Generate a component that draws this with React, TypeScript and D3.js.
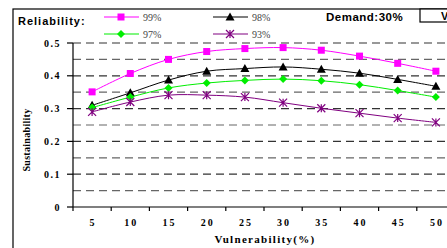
import React, { useEffect, useRef } from "react";
import * as d3 from "d3";

const vulnerability = ["5", "10", "15", "20", "25", "30", "35", "40", "45", "50"];
const rel99 = [0.351, 0.407, 0.45, 0.474, 0.483, 0.486, 0.478, 0.46, 0.438, 0.414];
const rel98 = [0.31, 0.348, 0.387, 0.414, 0.422, 0.427, 0.42, 0.408, 0.389, 0.368];
const rel97 = [0.303, 0.335, 0.363, 0.378, 0.386, 0.39, 0.385, 0.373, 0.355, 0.335];
const rel93 = [0.29, 0.32, 0.341, 0.341, 0.335, 0.318, 0.301, 0.286, 0.271, 0.258];
const yTicks = [0, 0.1, 0.2, 0.3, 0.4, 0.5];
const gridTicks = [0.05, 0.1, 0.15, 0.2, 0.25, 0.3, 0.35, 0.4, 0.45, 0.5];

const series = [
  { name: "99%", values: rel99, color: "#ff00ff", marker: "square" },
  { name: "98%", values: rel98, color: "#000000", marker: "triangle" },
  { name: "97%", values: rel97, color: "#00ee00", marker: "diamond" },
  { name: "93%", values: rel93, color: "#800080", marker: "asterisk" },
];

const width = 447;
const height = 248;
const margin = { top: 43, right: -8, bottom: 41, left: 73 };

const serif = "'Liberation Serif', 'Times New Roman', serif";
const sans = "'Liberation Sans', Arial, sans-serif";

function drawMarker(g: any, kind: string, x: number, y: number, color: string) {
  if (kind === "square") {
    g.append("rect").attr("x", x - 3.5).attr("y", y - 3.5).attr("width", 7).attr("height", 7).attr("fill", color);
  } else if (kind === "triangle") {
    g.append("path").attr("d", `M${x},${y - 4.5}L${x + 4.5},${y + 3.5}L${x - 4.5},${y + 3.5}Z`).attr("fill", color);
  } else if (kind === "diamond") {
    g.append("path").attr("d", `M${x},${y - 4}L${x + 4},${y}L${x},${y + 4}L${x - 4},${y}Z`).attr("fill", color);
  } else {
    const r = 4;
    g.append("path")
      .attr("d", `M${x - r},${y - r}L${x + r},${y + r}M${x - r},${y + r}L${x + r},${y - r}M${x},${y - r}L${x},${y + r}`)
      .attr("stroke", color)
      .attr("stroke-width", 1.2)
      .attr("fill", "none");
  }
}

const App = () => {
  const ref = useRef<SVGSVGElement>(null);

  useEffect(() => {
    document.body.style.margin = "0";
    const svg = d3.select(ref.current);
    svg.selectAll("*").remove();

    const x = d3
      .scaleBand()
      .domain(vulnerability)
      .range([margin.left, width - margin.right])
      .padding(0);
    const y = d3
      .scaleLinear()
      .domain([0, 0.5])
      .range([height - margin.bottom, margin.top]);

    // outer frame
    svg.append("rect").attr("x", 13).attr("y", 9).attr("width", 450).attr("height", 260)
      .attr("fill", "white").attr("stroke", "black").attr("stroke-width", 1.2);
    svg.append("rect").attr("x", 420).attr("y", 9).attr("width", 40).attr("height", 13)
      .attr("fill", "white").attr("stroke", "black").attr("stroke-width", 1.2);
    svg.append("text").attr("x", 441).attr("y", 20).attr("font-family", sans).attr("font-weight", "bold")
      .attr("font-size", 11).text("V");

    // grid
    svg.append("g").selectAll("line").data(gridTicks).enter().append("line")
      .attr("x1", margin.left).attr("x2", width)
      .attr("y1", (d) => y(d)).attr("y2", (d) => y(d))
      .attr("stroke", (d, i) => (i % 2 === 1 ? "#333" : "#666"))
      .attr("stroke-width", 1.2)
      .attr("stroke-dasharray", "8,5");

    // y axis
    svg.append("line").attr("x1", margin.left).attr("x2", margin.left)
      .attr("y1", y(0)).attr("y2", y(0.5)).attr("stroke", "black").attr("stroke-width", 1.2);
    const yt = svg.append("g");
    yTicks.forEach((t) => {
      yt.append("line").attr("x1", margin.left - 6).attr("x2", margin.left)
        .attr("y1", y(t)).attr("y2", y(t)).attr("stroke", "black").attr("stroke-width", 1.2);
      yt.append("text").attr("x", margin.left - 12).attr("y", y(t) + 3.5)
        .attr("text-anchor", "end").attr("font-family", serif).attr("font-weight", "bold")
        .attr("font-size", 10).attr("letter-spacing", 1.5).text(t === 0 ? "0" : String(t));
    });

    // x axis
    svg.append("line").attr("x1", margin.left).attr("x2", width)
      .attr("y1", y(0)).attr("y2", y(0)).attr("stroke", "black").attr("stroke-width", 1.2);
    const xt = svg.append("g");
    vulnerability.forEach((v) => {
      const bx = x(v)!;
      xt.append("line").attr("x1", bx).attr("x2", bx).attr("y1", y(0)).attr("y2", y(0) + 4)
        .attr("stroke", "black").attr("stroke-width", 1.2);
      xt.append("text").attr("x", bx + x.bandwidth() / 2 + 1).attr("y", y(0) + 19)
        .attr("text-anchor", "middle").attr("font-family", serif).attr("font-weight", "bold")
        .attr("font-size", 10).attr("letter-spacing", 2).text(v);
    });

    // axis titles
    svg.append("text").attr("x", 265).attr("y", 243).attr("text-anchor", "middle")
      .attr("font-family", serif).attr("font-weight", "bold").attr("font-size", 11)
      .attr("letter-spacing", 1.3).text("Vulnerability(%)");
    svg.append("text").attr("transform", `translate(30,140) rotate(-90)`)
      .attr("text-anchor", "middle").attr("font-family", serif).attr("font-weight", "bold")
      .attr("font-size", 10).attr("letter-spacing", 0.3).text("Sustainability");

    // lines
    const line = d3
      .line<number>()
      .x((d, i) => x(vulnerability[i])! + x.bandwidth() / 2)
      .y((d) => y(d))
      .curve(d3.curveCatmullRom.alpha(0.5));

    series.forEach((s) => {
      svg.append("path").attr("d", line(s.values)).attr("fill", "none")
        .attr("stroke", s.color).attr("stroke-width", 1);
      const mg = svg.append("g");
      s.values.forEach((v, i) => {
        drawMarker(mg, s.marker, x(vulnerability[i])! + x.bandwidth() / 2, y(v), s.color);
      });
    });

    // legend
    svg.append("text").attr("x", 18).attr("y", 25).attr("font-family", sans).attr("font-weight", "bold")
      .attr("font-size", 11).attr("letter-spacing", 1).text("Reliability:");
    svg.append("text").attr("x", 326).attr("y", 21).attr("font-family", sans).attr("font-weight", "bold")
      .attr("font-size", 11.5).attr("letter-spacing", 0.5).text("Demand:30%");
    const legendPos = [
      { x: 104, y: 17 },
      { x: 213, y: 17 },
      { x: 104, y: 34 },
      { x: 213, y: 34 },
    ];
    series.forEach((s, i) => {
      const p = legendPos[i];
      const lg = svg.append("g");
      lg.append("line").attr("x1", p.x).attr("x2", p.x + 35).attr("y1", p.y).attr("y2", p.y)
        .attr("stroke", s.color).attr("stroke-width", 1.2);
      drawMarker(lg, s.marker, p.x + 17, p.y, s.color);
      lg.append("text").attr("x", p.x + 39).attr("y", p.y + 3.5).attr("font-family", serif)
        .attr("font-size", 10).attr("fill", "#444").text(s.name);
    });
  }, []);

  return <svg ref={ref} width={width} height={height} style={{ display: "block" }} />;
};

export default App;
